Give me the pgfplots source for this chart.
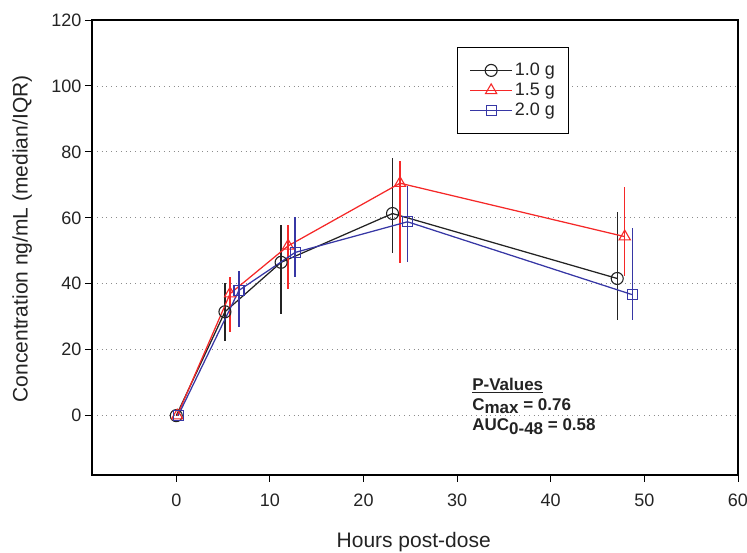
\documentclass[border=0pt]{standalone}
\usepackage{pgfplots}
\pgfplotsset{compat=1.18}
\usepackage{fontspec}
\setmainfont{Liberation Sans}
\definecolor{cblack}{RGB}{35,35,35}
\definecolor{cred}{RGB}{245,40,40}
\definecolor{cblue}{RGB}{55,55,165}
\definecolor{cgrid}{RGB}{140,140,140}
\begin{document}
\begin{tikzpicture}
\path[use as bounding box] (-92pt,-78pt) rectangle (655pt,475pt);
\begin{axis}[
  at={(0pt,0pt)}, anchor=south west,
  scale only axis, width=646pt, height=455pt,
  xmin=-9, xmax=60, ymin=-18, ymax=120,
  xtick={0,10,...,60}, ytick={0,20,...,120},
  tick pos=left, tick align=outside,
  major tick length=7pt,
  every tick/.style={black, line width=0.9pt},
  axis line style={line width=1.1pt, black},
  ymajorgrids,
  grid style={cgrid, line width=0.8pt, dash pattern=on 0.8pt off 4pt},
  /pgf/number format/assume math mode=true,
  tick label style={font=\fontsize{18}{20}\selectfont, text=cblack},
  xticklabel style={yshift=-8pt},
  xlabel={Hours post-dose},
  ylabel={Concentration ng/mL (median/IQR)},
  label style={font=\fontsize{21}{24}\selectfont, text=cblack},
  xlabel style={at={(axis description cs:0.498,-0.160)}, anchor=base},
  ylabel style={at={(axis description cs:-0.108,0.519)}, anchor=center},
  legend style={at={(axis description cs:0.565,0.941)}, anchor=north west,
    draw=black, line width=1.1pt, inner xsep=12pt, inner ysep=14pt,
    font=\fontsize{18}{20}\selectfont, row sep=2pt, text=cblack,
    /tikz/every even column/.append style={column sep=9pt}},
  legend cell align=left,
  legend image code/.code={
    \draw[mark repeat=2,mark phase=2]
    plot coordinates {(0pt,0pt) (21pt,0pt) (42pt,0pt)};},
  error bars/y dir=both, error bars/y explicit,
  error bars/error mark=none,
  clip=false,
]
\addplot[cblack, line width=1.25pt, mark=o, mark size=6pt,
  mark options={fill=white, solid, line width=1.1pt},
  error bars/error bar style={line width=1.4pt, cblack}]
  table[x=x, y=y, y error plus=ep, y error minus=em] {
x y ep em
0 0 0 0
5.2 31.5 8.7 8.8
11.2 46.5 11.4 15.7
23.1 61.3 16.8 12.0
47.1 41.6 20.1 12.5
};
\addlegendentry{1.0 g}
\addplot[cred, line width=1.25pt, mark=triangle, mark size=6.5pt,
  mark options={fill=white, solid, line width=1.1pt},
  error bars/error bar style={line width=1.4pt, cred}]
  table[x=x, y=y, y error plus=ep, y error minus=em] {
x y ep em
0.1 0 0 0
5.75 37 4.9 11.6
11.95 51.5 6.4 13.0
23.9 70.5 6.8 24.2
47.9 54.3 15.0 11.9
};
\addlegendentry{1.5 g}
\addplot[cblue, line width=1.25pt, mark=square, mark size=5pt,
  mark options={fill=white, solid, line width=1.1pt},
  error bars/error bar style={line width=1.4pt, cblue}]
  table[x=x, y=y, y error plus=ep, y error minus=em] {
x y ep em
0.2 0 0 0
6.7 38 6.0 11.0
12.7 49.5 10.6 7.6
24.7 58.8 10.7 12.2
48.7 36.7 20.2 7.6
};
\addlegendentry{2.0 g}
\node[anchor=base west, font=\fontsize{17}{20}\selectfont\bfseries, text=cblack, inner sep=0pt]
  at (axis cs:31.6,7.6) {\underline{P-Values}};
\node[anchor=base west, font=\fontsize{17}{20}\selectfont\bfseries, text=cblack, inner sep=0pt]
  at (axis cs:31.6,1.6) {C\raisebox{-3.5pt}{max} = 0.76};
\node[anchor=base west, font=\fontsize{17}{20}\selectfont\bfseries, text=cblack, inner sep=0pt]
  at (axis cs:31.6,-4.6) {AUC\raisebox{-3.5pt}{0-48} = 0.58};
\end{axis}
\end{tikzpicture}
\end{document}
